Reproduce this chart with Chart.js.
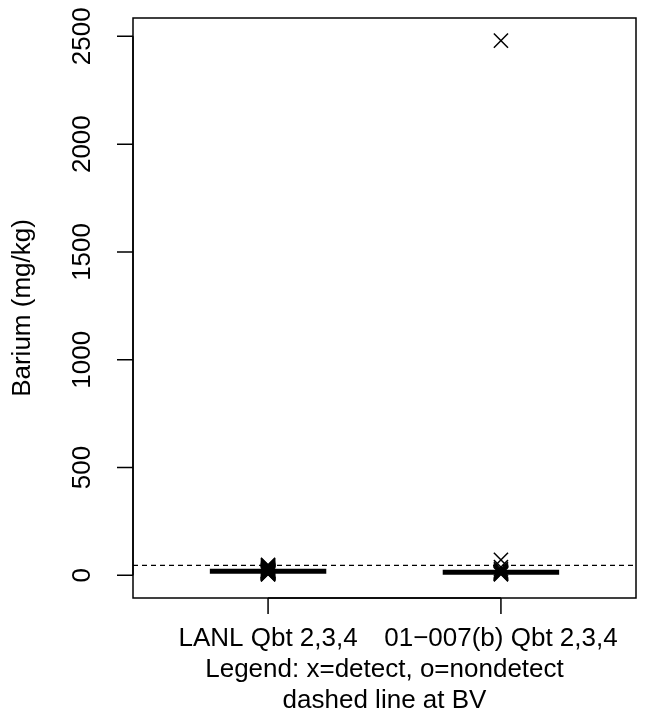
<!DOCTYPE html>
<html>
<head>
<meta charset="utf-8">
<script src="https://cdn.jsdelivr.net/npm/chart.js@4/dist/chart.umd.min.js"></script>
<style>
  html, body { margin: 0; padding: 0; background: #ffffff; }
  #wrap { width: 660px; height: 721px; }
</style>
</head>
<body>
<div id="wrap"><canvas id="c" width="660" height="721"></canvas></div>
<script>
// ---- data ----
const categories = ['LANL Qbt 2,3,4', '01\u2212007(b) Qbt 2,3,4'];
const lanlValues = [4, 6, 8, 10, 11, 12, 13, 14, 15, 16, 17, 18, 19, 20, 21, 22, 23, 25, 27, 29, 32, 35, 38, 42, 46, 49];
const siteValues = [2480, 72, 38, 28, 22, 18, 15, 13, 11, 9, 7, 5];
const medians = [19, 14];
const bvValue = 46;
const yTicks = [0, 500, 1000, 1500, 2000, 2500];
const xTicks = [1, 2];
const xTitleLines = ['Legend: x=detect, o=nondetect', 'dashed line at BV'];
const yTitle = 'Barium (mg/kg)';

const FONT = '26px "Liberation Sans", Arial, sans-serif';
const xMin = 0.42, xMax = 2.58, yMin = -105, yMax = 2585;

const groups = [lanlValues, siteValues];
const pointSets = groups.map((vals, i) => ({
  type: 'scatter',
  data: vals.map(v => ({ x: xTicks[i], y: v })),
  pointStyle: 'crossRot',
  pointRadius: 10,
  pointHoverRadius: 10,
  borderColor: '#000',
  backgroundColor: '#000',
  borderWidth: 1.5,
  showLine: false,
  order: 0
}));
const medianSets = medians.map((m, i) => ({
  type: 'line',
  data: [{ x: xTicks[i] - 0.25, y: m }, { x: xTicks[i] + 0.25, y: m }],
  borderColor: '#000',
  borderWidth: 5,
  pointRadius: 0,
  borderCapStyle: 'butt',
  order: 1
}));
const bvSet = {
  type: 'line',
  data: [{ x: xMin, y: bvValue }, { x: xMax, y: bvValue }],
  borderColor: '#000',
  borderWidth: 1.2,
  borderDash: [5, 4],
  pointRadius: 0,
  order: 2
};

const axesPlugin = {
  id: 'rAxes',
  afterDraw(chart) {
    const ctx = chart.ctx;
    const a = chart.chartArea;
    const xs = chart.scales.x, ys = chart.scales.y;
    ctx.save();
    ctx.strokeStyle = '#000';
    ctx.fillStyle = '#000';
    ctx.lineWidth = 1.5;
    // box
    ctx.strokeRect(a.left, a.top, a.right - a.left, a.bottom - a.top);
    // y axis ticks and labels
    const tickLen = 16;
    const y0 = ys.getPixelForValue(yTicks[0]);
    const y1 = ys.getPixelForValue(yTicks[yTicks.length - 1]);
    ctx.beginPath();
    ctx.moveTo(a.left, y0); ctx.lineTo(a.left, y1);
    yTicks.forEach(t => {
      const py = ys.getPixelForValue(t);
      ctx.moveTo(a.left - tickLen, py); ctx.lineTo(a.left, py);
    });
    ctx.stroke();
    ctx.font = FONT;
    ctx.textAlign = 'center';
    ctx.textBaseline = 'alphabetic';
    yTicks.forEach(t => {
      const py = ys.getPixelForValue(t);
      ctx.save();
      ctx.translate(a.left - 43, py);
      ctx.rotate(-Math.PI / 2);
      ctx.fillText(String(t), 0, 0);
      ctx.restore();
    });
    // x axis ticks and labels
    const xp0 = xs.getPixelForValue(xTicks[0]);
    const xp1 = xs.getPixelForValue(xTicks[xTicks.length - 1]);
    ctx.beginPath();
    ctx.moveTo(xp0, a.bottom); ctx.lineTo(xp1, a.bottom);
    xTicks.forEach(t => {
      const px = xs.getPixelForValue(t);
      ctx.moveTo(px, a.bottom); ctx.lineTo(px, a.bottom + tickLen);
    });
    ctx.stroke();
    ctx.textBaseline = 'middle';
    xTicks.forEach((t, i) => {
      ctx.fillText(categories[i], xs.getPixelForValue(t), a.bottom + 41);
    });
    const cx = (a.left + a.right) / 2;
    xTitleLines.forEach((s, i) => {
      ctx.fillText(s, cx, a.bottom + 72 + i * 31);
    });
    // y title
    ctx.save();
    ctx.translate(30, (a.top + a.bottom) / 2);
    ctx.rotate(-Math.PI / 2);
    ctx.textBaseline = 'alphabetic';
    ctx.fillText(yTitle, 0, 0);
    ctx.restore();
    ctx.restore();
  }
};

new Chart(document.getElementById('c'), {
  data: { datasets: [...pointSets, ...medianSets, bvSet] },
  options: {
    responsive: false,
    animation: false,
    events: [],
    layout: { padding: { left: 133, right: 24, top: 18, bottom: 123 } },
    plugins: { legend: { display: false }, tooltip: { enabled: false } },
    scales: {
      x: { type: 'linear', min: xMin, max: xMax, display: false },
      y: { type: 'linear', min: yMin, max: yMax, display: false }
    }
  },
  plugins: [axesPlugin]
});
</script>
</body>
</html>
